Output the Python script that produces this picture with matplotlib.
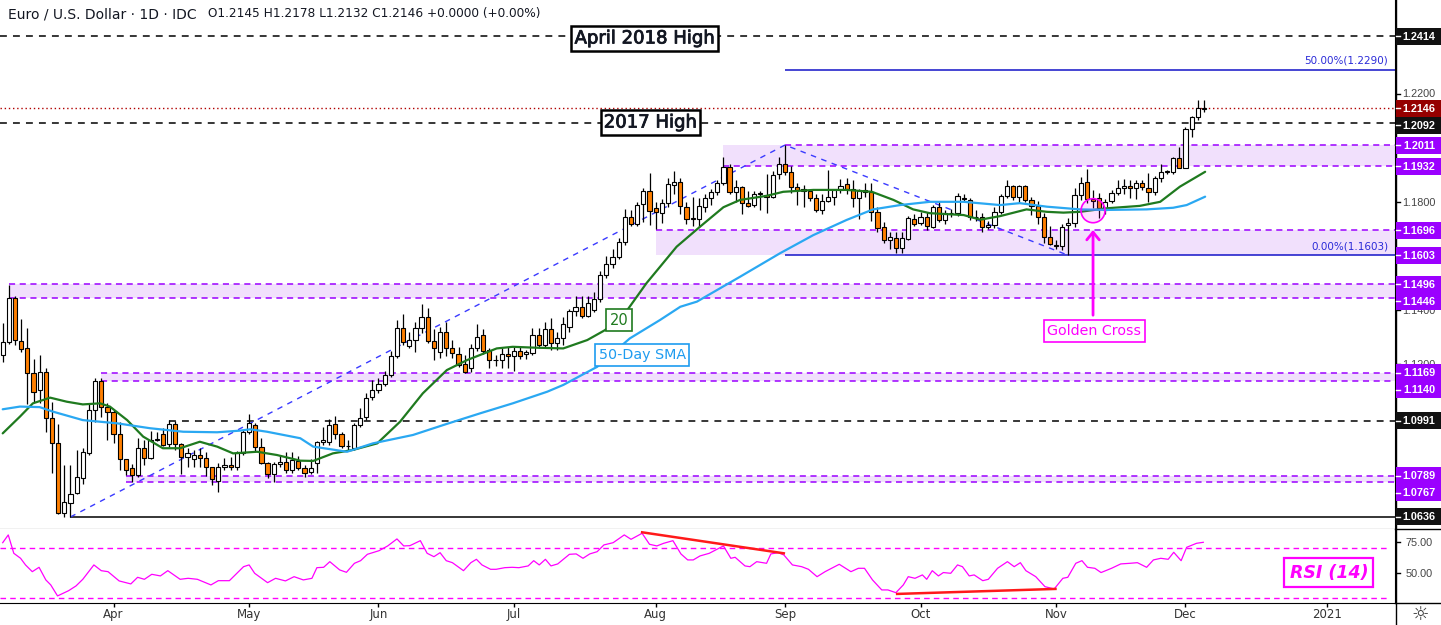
import matplotlib
matplotlib.use("Agg")
import matplotlib.pyplot as plt
from matplotlib.patches import Rectangle, Ellipse
from matplotlib.lines import Line2D
import matplotlib.patheffects as pe
import numpy as np

# ---------------- data (daily EUR/USD, bar index 0 = 2020-03-06) ----------------
opens = [1.1235,1.1283,1.1445,1.1287,1.1261,1.1168,1.1105,1.1173,1.1002,1.0909,
 1.0652,1.0688,1.0725,1.0780,1.0873,1.1031,1.1139,1.1044,1.1025,1.0942,
 1.0849,1.0816,1.0791,1.0890,1.0853,1.0921,1.0942,1.0906,1.0980,1.0906,
 1.0857,1.0851,1.0865,1.0853,1.0819,1.0770,1.0819,1.0828,1.0819,1.0871,
 1.0950,1.0977,1.0896,1.0837,1.0795,1.0832,1.0838,1.0808,1.0841,1.0816,
 1.0803,1.0837,1.0912,1.0914,1.0978,1.0943,1.0900,1.0890,1.0976,1.1005,
 1.1078,1.1105,1.1127,1.1161,1.1231,1.1334,1.1269,1.1290,1.1334,1.1374,
 1.1288,1.1246,1.1321,1.1259,1.1238,1.1201,1.1186,1.1259,1.1309,1.1253,
 1.1217,1.1216,1.1238,1.1231,1.1249,1.1238,1.1241,1.1309,1.1272,1.1330,
 1.1280,1.1296,1.1339,1.1398,1.1411,1.1379,1.1401,1.1441,1.1530,1.1571,
 1.1596,1.1654,1.1746,1.1719,1.1793,1.1841,1.1777,1.1759,1.1796,1.1863,
 1.1875,1.1781,1.1740,1.1737,1.1781,1.1814,1.1838,1.1872,1.1931,1.1838,
 1.1857,1.1796,1.1790,1.1830,1.1826,1.1818,1.1904,1.1941,1.1913,1.1857,
 1.1847,1.1841,1.1814,1.1771,1.1804,1.1818,1.1845,1.1867,1.1847,1.1814,
 1.1845,1.1839,1.1765,1.1707,1.1660,1.1666,1.1632,1.1663,1.1736,1.1722,
 1.1744,1.1709,1.1781,1.1734,1.1759,1.1761,1.1815,1.1808,1.1746,1.1746,
 1.1707,1.1715,1.1765,1.1823,1.1860,1.1818,1.1860,1.1808,1.1786,1.1744,
 1.1672,1.1640,1.1638,1.1714,1.1724,1.1826,1.1873,1.1810,1.1814,1.1771,
 1.1804,1.1833,1.1851,1.1860,1.1851,1.1872,1.1853,1.1838,1.1888,1.1913,
 1.1913,1.1962,1.1925,1.2069,1.2113,1.2145]
highs = [1.1353,1.1494,1.1452,1.1368,1.1335,1.1220,1.1235,1.1187,1.1062,1.0980,
 1.0828,1.0828,1.0884,1.0891,1.1057,1.1150,1.1150,1.1057,1.1031,1.0988,
 1.0852,1.0832,1.0928,1.0921,1.0952,1.0950,1.0965,1.0993,1.0990,1.0910,
 1.0890,1.0884,1.0890,1.0877,1.0822,1.0836,1.0855,1.0858,1.0880,1.0958,
 1.1017,1.0985,1.0928,1.0840,1.0840,1.0865,1.0875,1.0875,1.0862,1.0829,
 1.0850,1.0917,1.0967,1.0999,1.1008,1.0950,1.0920,1.0985,1.1040,1.1093,
 1.1142,1.1150,1.1175,1.1250,1.1365,1.1385,1.1320,1.1355,1.1422,1.1410,
 1.1330,1.1340,1.1355,1.1290,1.1265,1.1235,1.1275,1.1348,1.1330,1.1260,
 1.1235,1.1260,1.1265,1.1265,1.1265,1.1255,1.1335,1.1335,1.1355,1.1370,
 1.1320,1.1375,1.1405,1.1452,1.1452,1.1452,1.1468,1.1545,1.1601,1.1626,
 1.1666,1.1776,1.1770,1.1800,1.1851,1.1908,1.1800,1.1810,1.1890,1.1916,
 1.1890,1.1800,1.1820,1.1815,1.1830,1.1850,1.1880,1.1966,1.1940,1.1880,
 1.1860,1.1840,1.1840,1.1840,1.1905,1.1915,1.1966,1.2011,1.1935,1.1870,
 1.1865,1.1850,1.1830,1.1830,1.1919,1.1850,1.1885,1.1890,1.1882,1.1850,
 1.1870,1.1872,1.1780,1.1725,1.1690,1.1690,1.1690,1.1750,1.1755,1.1765,
 1.1765,1.1790,1.1805,1.1770,1.1775,1.1835,1.1830,1.1815,1.1770,1.1760,
 1.1730,1.1780,1.1830,1.1880,1.1865,1.1865,1.1865,1.1820,1.1805,1.1760,
 1.1710,1.1660,1.1720,1.1740,1.1851,1.1892,1.1921,1.1845,1.1832,1.1812,
 1.1845,1.1882,1.1885,1.1880,1.1880,1.1880,1.1906,1.1895,1.1940,1.1920,
 1.1965,1.2004,1.2077,1.2120,1.2176,1.2178]
lows = [1.1207,1.1275,1.1272,1.1246,1.1055,1.1062,1.1057,1.0951,1.0798,1.0647,
 1.0636,1.0637,1.0720,1.0758,1.0865,1.0988,1.1007,1.0920,1.0909,1.0810,
 1.0790,1.0767,1.0785,1.0828,1.0852,1.0915,1.0898,1.0895,1.0884,1.0795,
 1.0820,1.0820,1.0820,1.0788,1.0754,1.0727,1.0810,1.0810,1.0810,1.0865,
 1.0943,1.0880,1.0833,1.0780,1.0767,1.0820,1.0800,1.0800,1.0808,1.0784,
 1.0795,1.0800,1.0903,1.0901,1.0925,1.0891,1.0880,1.0885,1.0970,1.0995,
 1.1070,1.1095,1.1120,1.1155,1.1225,1.1270,1.1262,1.1245,1.1316,1.1280,
 1.1217,1.1225,1.1230,1.1225,1.1190,1.1168,1.1170,1.1250,1.1240,1.1185,
 1.1195,1.1185,1.1185,1.1175,1.1220,1.1220,1.1235,1.1260,1.1265,1.1255,
 1.1255,1.1270,1.1320,1.1380,1.1370,1.1375,1.1395,1.1430,1.1520,1.1555,
 1.1590,1.1640,1.1710,1.1710,1.1728,1.1717,1.1700,1.1722,1.1782,1.1830,
 1.1755,1.1720,1.1710,1.1709,1.1765,1.1790,1.1828,1.1865,1.1830,1.1800,
 1.1757,1.1782,1.1780,1.1770,1.1760,1.1815,1.1885,1.1900,1.1835,1.1790,
 1.1782,1.1805,1.1765,1.1755,1.1800,1.1790,1.1835,1.1830,1.1783,1.1737,
 1.1820,1.1730,1.1690,1.1650,1.1627,1.1612,1.1612,1.1660,1.1710,1.1715,
 1.1695,1.1705,1.1725,1.1720,1.1745,1.1750,1.1800,1.1735,1.1730,1.1690,
 1.1700,1.1705,1.1755,1.1815,1.1808,1.1795,1.1800,1.1752,1.1720,1.1650,
 1.1640,1.1625,1.1622,1.1603,1.1707,1.1808,1.1796,1.1777,1.1740,1.1755,
 1.1795,1.1826,1.1830,1.1815,1.1810,1.1845,1.1800,1.1825,1.1875,1.1905,
 1.1905,1.1925,1.1925,1.2041,1.2105,1.2132]
closes = [1.1283,1.1445,1.1290,1.1257,1.1168,1.1098,1.1173,1.1002,1.0909,1.0652,
 1.0691,1.0721,1.0784,1.0876,1.1031,1.1139,1.1044,1.1025,1.0942,1.0849,
 1.0810,1.0791,1.0890,1.0853,1.0921,1.0924,1.0902,1.0980,1.0906,1.0857,
 1.0872,1.0865,1.0853,1.0819,1.0775,1.0819,1.0828,1.0819,1.0871,1.0951,
 1.0984,1.0896,1.0837,1.0795,1.0832,1.0838,1.0808,1.0845,1.0816,1.0800,
 1.0816,1.0912,1.0920,1.0976,1.0943,1.0899,1.0898,1.0976,1.1001,1.1075,
 1.1105,1.1127,1.1161,1.1231,1.1334,1.1284,1.1290,1.1334,1.1374,1.1288,
 1.1259,1.1321,1.1259,1.1241,1.1198,1.1173,1.1259,1.1303,1.1251,1.1216,
 1.1216,1.1238,1.1231,1.1249,1.1231,1.1245,1.1309,1.1272,1.1330,1.1278,
 1.1296,1.1349,1.1398,1.1411,1.1379,1.1426,1.1441,1.1530,1.1571,1.1598,
 1.1654,1.1746,1.1719,1.1789,1.1841,1.1768,1.1765,1.1796,1.1867,1.1875,
 1.1787,1.1737,1.1736,1.1785,1.1814,1.1838,1.1872,1.1931,1.1838,1.1857,
 1.1798,1.1787,1.1830,1.1835,1.1818,1.1900,1.1941,1.1913,1.1857,1.1845,
 1.1841,1.1814,1.1771,1.1804,1.1818,1.1845,1.1860,1.1847,1.1814,1.1842,
 1.1839,1.1765,1.1703,1.1660,1.1670,1.1629,1.1666,1.1740,1.1719,1.1744,
 1.1712,1.1781,1.1734,1.1761,1.1759,1.1823,1.1812,1.1746,1.1746,1.1707,
 1.1715,1.1765,1.1823,1.1860,1.1818,1.1860,1.1808,1.1786,1.1744,1.1672,
 1.1645,1.1638,1.1709,1.1724,1.1826,1.1869,1.1810,1.1805,1.1777,1.1801,
 1.1835,1.1851,1.1860,1.1851,1.1872,1.1857,1.1838,1.1888,1.1913,1.1913,
 1.1962,1.1925,1.2069,1.2113,1.2147,1.2146]

sma20_idx = [0,2.8,4.9,7.7,10.4,13,15.8,17.4,20.2,22.8,26,28.8,32,34.8,37.4,41.3,44.5,48.3,50.4,53.6,
 56.9,60.8,64.5,68.2,72.1,75.4,80.2,82.8,86.1,91,94.9,97.8,101.4,104.5,109.4,113.2,117,119.7,124,126.7,
 131.6,137,141.1,144.6,147.8,150.5,156,158.7,161.9,166.2,169.5,172.2,174.9,179.2,184.6,187.9,191.1,195.2]
sma20_val = [1.0945,1.1007,1.1056,1.1077,1.1062,1.1052,1.1056,1.1044,1.0994,1.0933,1.0890,1.0890,1.0914,1.0896,1.0871,
 1.0877,1.0865,1.0844,1.0843,1.0871,1.0884,1.0908,1.0988,1.1093,1.1179,1.1216,1.1259,1.1265,1.1262,1.1259,
 1.1290,1.1327,1.1401,1.1500,1.1635,1.1709,1.1781,1.1808,1.1823,1.1838,1.1845,1.1845,1.1838,1.1808,1.1773,
 1.1759,1.1752,1.1735,1.1748,1.1773,1.1764,1.1761,1.1764,1.1777,1.1786,1.1801,1.1857,1.1912]
sma50_idx = [0,2.8,6,8.2,13,18.6,23.9,29.3,34.8,38.5,40.2,42.9,48.3,50.4,55.9,60.1,66.6,72.1,77.5,82.8,
 88.4,91,96.5,101.8,106.7,110,112.7,119.7,126.2,131.6,137,141.3,145.7,150.5,156,161.9,165.1,169.5,174.9,179.2,
 185.7,190,192.2,195.2]
sma50_val = [1.1034,1.1044,1.1042,1.1025,1.0994,1.0982,1.0964,1.0951,1.0949,1.0955,1.0960,1.0951,1.0927,1.0896,1.0877,
 1.0908,1.0939,1.0980,1.1019,1.1056,1.1099,1.1124,1.1191,1.1296,1.1364,1.1413,1.1432,1.1524,1.1611,1.1678,
 1.1734,1.1773,1.1789,1.1801,1.1801,1.1789,1.1796,1.1783,1.1773,1.1771,1.1773,1.1779,1.1789,1.1820]

rsi_idx = [0,0.9,1.8,2.9,3.7,4.8,5.9,7.0,7.8,8.9,10.7,11.9,13.0,14.8,16.0,17.1,18.9,20.8,21.9,23.0,
 24.2,25.6,26.8,28.8,30.1,31.6,33.8,35.0,36.8,39.1,40.0,40.9,43.0,44.3,45.9,47.3,48.8,50.2,51.0,52.1,
 53.1,54.7,55.8,57.1,58.1,59.2,61.1,62.5,64.0,65.1,66.1,67.8,68.9,70.0,71.0,72.0,73.0,74.8,76.0,76.9,
 77.8,79.2,80.1,81.5,82.7,83.8,85.3,86.2,87.1,88.1,89.0,90.1,92.0,93.1,94.2,95.3,96.5,97.6,99.1,100.9,
 102.0,103.8,105.0,106.2,107.3,108.8,110.1,111.2,112.1,113.2,114.7,117.0,118.2,118.9,120.5,121.3,122.4,124.0,124.7,125.9,
 126.8,128.2,129.7,130.8,132.2,133.5,135.8,137.7,138.9,139.9,141.2,142.7,143.7,145.0,146.2,147.0,148.1,149.3,150.0,150.9,
 151.9,152.7,153.9,155.0,155.8,156.9,157.7,159.1,160.0,161.5,163.1,164.2,165.2,166.1,167.7,169.2,170.7,172.1,172.9,174.2,
 175.2,176.1,177.3,178.3,180.0,181.5,183.0,184.2,185.7,186.8,188.0,189.2,190.1,191.3,192.2,193.8,194.9]
rsi_val = [74.5,80.7,66,62,56.7,51.3,54.8,44.7,40.7,31.9,36.1,39.9,45.2,56.7,52.1,51.3,43.9,41.5,46.8,45.2,
 49.2,47.9,52.1,45.2,46,45.2,40.7,44.1,44.1,55.3,56.7,50,42.5,46,43.9,47.3,44.7,46,54.5,54.8,
 59.3,52.7,50.8,58,60.1,65.2,68.1,71.9,77.5,71.9,72.1,76.1,66,63.3,66.5,60.1,58.5,52.1,58.5,61.2,
 56.7,53.2,53.2,54.5,54.8,54.5,55.9,60.1,56.7,61.2,55.9,57.5,65.2,65.5,62,65.5,67.3,72.7,74.5,80.7,
 77.2,82,73.2,71.9,74,76.1,65.5,60.7,60.7,63.9,66,71.9,62,62.8,55.9,55.3,59.3,58,65.5,66.5,
 64.7,56.7,55.3,53.2,47.3,51.3,57.2,51.3,54,54,44.7,36.7,36.7,34.5,40.7,47.3,46,48.7,45.2,52.1,
 47.9,50.6,50,56.7,55.3,47.9,48.7,44.1,45.2,54,59.3,55.3,58.5,52.1,47.3,39.3,37.5,46,46.8,58,
 60.1,54.8,54,50.6,54,57.5,58,58.5,54.8,60.7,62,61.2,66.8,60.1,70.8,74,74.8]

# RSI divergence lines (bar index, RSI)
div1_idx, div1_val = [103.8, 126.8], [82.8, 66.0]
div2_idx, div2_val = [145.2, 170.9], [33.5, 37.5]

# horizontal levels
zone_lo    = [1.1932, 1.1603, 1.1446, 1.1140, 1.0767]
zone_hi    = [1.2011, 1.1696, 1.1496, 1.1169, 1.0789]
zone_start = [117, 106, 1, 16, 20]
purple_lvls  = [1.2011, 1.1932, 1.1696, 1.1496, 1.1446, 1.1169, 1.1140, 1.0789, 1.0767]
purple_start = [127, 117, 106, 1, 1, 16, 16, 20, 20]
black_lvls  = [1.2414, 1.2092, 1.0991]
black_start = [None, None, 27]
low_lvl, low_start = 1.0636, 11
last_price = 1.2146
fib_lvls, fib_start = [1.2290, 1.1603], 127
fib_texts = ['50.00%(1.2290)', '0.00%(1.1603)']
trend_idx = [11, 127, 173]
trend_val = [1.0636, 1.2011, 1.1603]

axis_labels = [(1.2414, 'k'), (1.2146, 'r'), (1.2092, 'k'), (1.2011, 'p'), (1.1932, 'p'),
               (1.1696, 'p'), (1.1603, 'p'), (1.1496, 'p'), (1.1446, 'p'), (1.1169, 'p'),
               (1.1140, 'p'), (1.0991, 'k'), (1.0789, 'p'), (1.0767, 'p'), (1.0636, 'k')]
price_ticks = [1.24, 1.22, 1.20, 1.18, 1.16, 1.14, 1.12, 1.10, 1.08]
rsi_ticks = [75, 50]
tick_idx = [18, 40, 61, 83, 106, 127, 149, 171, 192, 215]
tick_labels = ['Apr', 'May', 'Jun', 'Jul', 'Aug', 'Sep', 'Oct', 'Nov', 'Dec', '2021']

# ---------------- figure ----------------
W, H = 1441, 625
fig = plt.figure(figsize=(W / 100, H / 100), dpi=100)
fig.patch.set_facecolor('white')
ax = fig.add_axes([0, 1 - 529 / H, 1395 / W, 529 / H])
ax2 = fig.add_axes([0, 1 - 603 / H, 1395 / W, 74 / H])
X0, X1 = -0.44, 226.02
for a in (ax, ax2):
    a.set_xlim(X0, X1)
    a.spines['left'].set_visible(False)
    a.spines['top'].set_visible(False)
    a.spines['right'].set_color('black')
    a.spines['bottom'].set_color('black')
    a.set_yticks([])
ax.set_ylim(1.05914, 1.25471)
ax2.set_ylim(26.24, 85.44)
ax.set_xticks([])

PURPLE = '#9b00ff'
FILL = '#f1e0fc'
ORANGE = '#ff7f00'

# zones
for lo, hi, s in zip(zone_lo, zone_hi, zone_start):
    ax.fill_between([s, X1], lo, hi, color=FILL, lw=0, zorder=1)
for lv, s in zip(purple_lvls, purple_start):
    ax.hlines(lv, s, X1, colors=PURPLE, linestyles=(0, (4, 3)), lw=1.1, zorder=2)
for lv, s in zip(black_lvls, black_start):
    ax.hlines(lv, X0 if s is None else s, X1, colors='black', linestyles=(0, (4.5, 4)), lw=1.1, zorder=2)
ax.hlines(low_lvl, low_start, X1, colors='black', lw=1.1, zorder=2)
ax.hlines(last_price, X0, X1, colors='#b00000', linestyles=(0, (1, 2)), lw=1.0, zorder=2)
for lv in fib_lvls:
    ax.hlines(lv, fib_start, X1, colors='#1414c8', lw=1.1, zorder=2)
for lv, t in zip(fib_lvls, fib_texts):
    ax.annotate(t, (224.9, lv), xytext=(0, 3), textcoords='offset points', ha='right', va='bottom',
                fontsize=7.5, color='#2a2ad8', zorder=6)
ax.plot(trend_idx, trend_val, color='#3a3aff', ls=(0, (4, 4)), lw=1.0, zorder=2)

# candles
o = np.array(opens); h = np.array(highs); l = np.array(lows); c = np.array(closes)
x = np.arange(len(o))
up = c >= o
ax.vlines(x, l, h, colors='black', lw=0.9, zorder=3)
bottom = np.minimum(o, c)
height = np.maximum(np.abs(c - o), 0.00006)
ax.bar(x, height, bottom=bottom, width=0.68, color=np.where(up, 'white', ORANGE),
       edgecolor='black', linewidth=0.8, zorder=4)

# moving averages
ax.plot(sma20_idx, sma20_val, color='#1f7a1f', lw=1.6, zorder=5, solid_capstyle='round')
ax.plot(sma50_idx, sma50_val, color='#2aa8f2', lw=1.6, zorder=5, solid_capstyle='round')

# annotations
stroke = [pe.withStroke(linewidth=0.6, foreground='#131722')]
ax.text(104.2, 1.2405, 'April 2018 High', ha='center', va='center', fontsize=13, color='#131722',
        path_effects=stroke, zorder=8,
        bbox=dict(boxstyle='square,pad=0.18', fc='white', ec='black', lw=1.8))
ax.text(105.1, 1.2094, '2017 High', ha='center', va='center', fontsize=13, color='#131722',
        path_effects=stroke, zorder=8,
        bbox=dict(boxstyle='square,pad=0.18', fc='white', ec='black', lw=1.8))
ax.text(100.1, 1.1364, '20', ha='center', va='center', fontsize=10.5, color='#1f7a1f', zorder=8,
        bbox=dict(boxstyle='square,pad=0.25', fc='white', ec='#1f7a1f', lw=1.2))
ax.text(103.8, 1.12347, '50-Day SMA', ha='center', va='center', fontsize=10.3, color='#1e9cf0', zorder=8,
        bbox=dict(boxstyle='square,pad=0.25', fc='white', ec='#1e9cf0', lw=1.2))
ax.text(177.2, 1.13234, 'Golden Cross', ha='center', va='center', fontsize=10.3, color='#ff00ff', zorder=8,
        bbox=dict(boxstyle='square,pad=0.25', fc='white', ec='#ff00ff', lw=1.2))
ax.annotate('', xy=(177.0, 1.1707), xytext=(177.0, 1.13715),
            arrowprops=dict(arrowstyle='->,head_length=0.55,head_width=0.45', color='#ff00ff', lw=2),
            zorder=7)
ax.add_patch(Ellipse((177.0, 1.17682), width=3.9, height=0.0089, fc=(1, 0, 1, 0.12),
                     ec='#ff00ff', lw=1.2, zorder=7))

# RSI panel
ax2.hlines([70, 30], X0, 224.9, colors='#ff00ff', linestyles=(0, (4, 3)), lw=1.0, zorder=2)
ax2.plot(rsi_idx, rsi_val, color='#ff00ff', lw=0.9, zorder=3)
ax2.plot(div1_idx, div1_val, color='#ff1a1a', lw=1.8, zorder=4)
ax2.plot(div2_idx, div2_val, color='#ff1a1a', lw=1.8, zorder=4)
ax2.text(215.3, 50.64, 'RSI (14)', ha='center', va='center', fontsize=12.5, color='#ff00ff',
         fontweight='bold', fontstyle='italic', zorder=6,
         bbox=dict(boxstyle='square,pad=0.3', fc='white', ec='#ff00ff', lw=1.6))
ax2.set_xticks(tick_idx)
ax2.set_xticklabels(tick_labels, fontsize=8.5, color='#333333')
ax2.tick_params(axis='x', length=3, width=1, pad=0.5, color='black')

# full-height right border and extended horizontal separators
fig.add_artist(Line2D([1395.5 / W, 1395.5 / W], [0, 1], color='black', lw=1.0, zorder=4))
for yy in (529, 603):
    fig.add_artist(Line2D([1395 / W, 1], [1 - yy / H, 1 - yy / H], color='black', lw=1.0, zorder=4))

# right price scale
def disp_y(a, v):
    return a.transData.transform((0, v))[1]

LAB_FONT = dict(family='Liberation Sans', fontsize=7.8)

# coloured level labels (pushed down when they would collide, as in the original)
colors = {'k': '#111111', 'r': '#950000', 'p': PURPLE}
label_centers = []
prev = -1e9
for v, ck in axis_labels:
    ypix = H - disp_y(ax, v)
    ypix = max(ypix, prev + 17)
    prev = ypix
    label_centers.append(ypix)
    yd = H - ypix
    fig.add_artist(Rectangle((1396 / W, (yd - 8.5) / H), 45 / W, 17 / H, transform=fig.transFigure,
                             fc=colors[ck], ec='none', zorder=5))
    fig.add_artist(Line2D([1396 / W, 1400 / W], [yd / H] * 2, color='white', lw=1, zorder=6))
    fig.text(1419 / W, (yd - 0.5) / H, f'{v:.4f}', ha='center', va='center', color='white',
             fontweight='bold', zorder=6, **LAB_FONT)

# plain price ticks: only those not hidden under a coloured label
for v in price_ticks:
    ypix = H - disp_y(ax, v)
    if min(abs(ypix - cpix) for cpix in label_centers) < 6:
        continue
    yd = H - ypix
    fig.add_artist(Line2D([1396 / W, 1400 / W], [yd / H] * 2, color='black', lw=1, zorder=3))
    fig.text(1419 / W, (yd - 0.5) / H, f'{v:.4f}', ha='center', va='center', color='#444444',
             zorder=3, **LAB_FONT)
for v in rsi_ticks:
    yd = disp_y(ax2, v)
    fig.add_artist(Line2D([1396 / W, 1400 / W], [yd / H] * 2, color='black', lw=1, zorder=3))
    fig.text(1419 / W, (yd - 0.5) / H, f'{v:.2f}', ha='center', va='center', color='#444444',
             zorder=3, **LAB_FONT)

# header
fig.text(8 / W, 1 - 14 / H, 'Euro / U.S. Dollar · 1D · IDC', ha='left', va='center', fontsize=10,
         color='#131722')
fig.text(208 / W, 1 - 14 / H, 'O1.2145 H1.2178 L1.2132 C1.2146 +0.0000 (+0.00%)', ha='left',
         va='center', fontsize=8.7, color='#131722')
fig.text(1420 / W, 1 - 614 / H, '☼', ha='center', va='center', fontsize=14, color='#333333')

fig.savefig('out.png', dpi=100, facecolor='white')
